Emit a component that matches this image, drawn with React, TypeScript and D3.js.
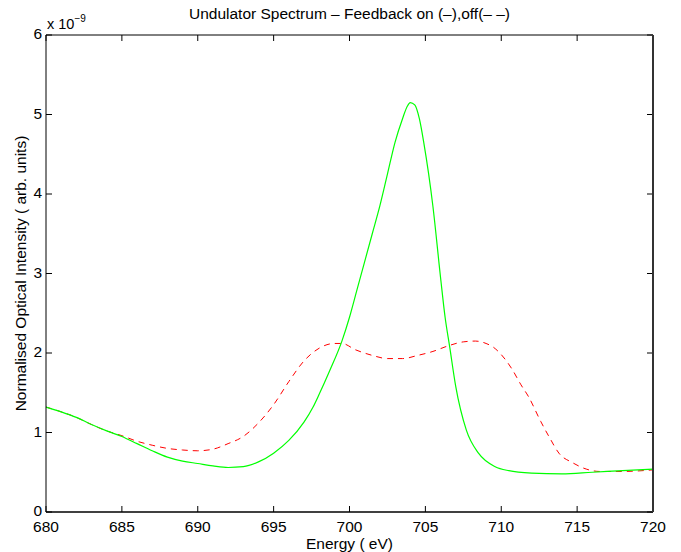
import React, { useRef, useEffect } from "react";
import * as d3 from "d3";

// feedback on (solid green)
const energyOn = [680, 681, 682, 683, 684, 685, 686, 687, 688, 689, 690, 691, 692, 693, 694, 695, 696, 697, 697.6, 698, 698.7, 699.5, 700, 700.5, 701, 701.5, 702, 702.5, 703, 703.5, 703.8, 704, 704.3, 704.6, 704.9, 705.5, 706, 706.3, 706.6, 707, 707.7, 708.5, 709.6, 710.5, 712, 714, 716, 718, 720];
const intensityOn = [1.32, 1.26, 1.19, 1.1, 1.02, 0.95, 0.86, 0.77, 0.69, 0.64, 0.61, 0.58, 0.56, 0.57, 0.63, 0.74, 0.9, 1.13, 1.32, 1.48, 1.78, 2.15, 2.45, 2.8, 3.15, 3.5, 3.85, 4.25, 4.65, 4.95, 5.1, 5.15, 5.12, 4.95, 4.64, 3.84, 2.95, 2.45, 2.08, 1.58, 1.03, 0.74, 0.57, 0.52, 0.49, 0.48, 0.5, 0.52, 0.54];

// feedback off (dashed red)
const energyOff = [680, 681, 682, 683, 684, 685, 686, 687, 688, 689, 690, 691, 692, 693, 694, 695, 696, 697, 698, 699, 699.5, 700.4, 701.5, 702.5, 703.5, 704.5, 705.5, 706.5, 707.5, 708.3, 709, 709.5, 710, 710.7, 711.3, 711.8, 712.6, 713.2, 713.8, 714.7, 715.6, 716.5, 718, 720];
const intensityOff = [1.32, 1.26, 1.19, 1.1, 1.02, 0.96, 0.89, 0.84, 0.8, 0.78, 0.77, 0.79, 0.86, 0.95, 1.12, 1.35, 1.64, 1.9, 2.06, 2.12, 2.12, 2.04, 1.97, 1.93, 1.93, 1.97, 2.02, 2.09, 2.14, 2.15, 2.12, 2.07, 1.98, 1.8, 1.6, 1.45, 1.14, 0.93, 0.74, 0.62, 0.54, 0.51, 0.51, 0.53];

const xTicks = [680, 685, 690, 695, 700, 705, 710, 715, 720];
const yTicks = [0, 1, 2, 3, 4, 5, 6];

const title = "Undulator Spectrum \u2013 Feedback on (\u2013),off(\u2013 \u2013)";
const xLabel = "Energy ( eV)";
const yLabel = "Normalised Optical Intensity ( arb. units)";

const App = () => {
  const ref = useRef<SVGSVGElement>(null);
  const W = 681, H = 552;
  const margin = { top: 35, right: 28, bottom: 40, left: 46 };
  const font = "'Liberation Sans', Arial, sans-serif";
  const fs = 15.5;

  useEffect(() => {
    const svg = d3.select(ref.current);
    svg.selectAll("*").remove();
    const w = W - margin.left - margin.right;
    const h = H - margin.top - margin.bottom;

    const x = d3.scaleLinear().domain([680, 720]).range([0, w]);
    const y = d3.scaleLinear().domain([0, 6]).range([h, 0]);

    const g = svg.append("g").attr("transform", `translate(${margin.left},${margin.top})`);

    const line = d3.line<number>()
      .x(d => x(d[0]))
      .y(d => y(d[1]))
      .curve(d3.curveMonotoneX);

    const offPts: any = energyOff.map((e, i) => [e, intensityOff[i]]);
    const onPts: any = energyOn.map((e, i) => [e, intensityOn[i]]);

    g.append("path").datum(offPts).attr("d", line as any)
      .attr("fill", "none").attr("stroke", "#ff0000").attr("stroke-width", 1)
      .attr("stroke-dasharray", "6,5");
    g.append("path").datum(onPts).attr("d", line as any)
      .attr("fill", "none").attr("stroke", "#00ff00").attr("stroke-width", 1.2);

    // ticks inside, on all four sides
    const tl = 6;
    xTicks.forEach(t => {
      g.append("line").attr("x1", x(t)).attr("x2", x(t)).attr("y1", h).attr("y2", h - tl).attr("stroke", "#000");
      g.append("line").attr("x1", x(t)).attr("x2", x(t)).attr("y1", 0).attr("y2", tl).attr("stroke", "#000");
      g.append("text").attr("x", x(t)).attr("y", h + 20).attr("text-anchor", "middle")
        .attr("font-family", font).attr("font-size", fs).text(t);
    });
    yTicks.forEach(t => {
      g.append("line").attr("x1", 0).attr("x2", tl).attr("y1", y(t)).attr("y2", y(t)).attr("stroke", "#000");
      g.append("line").attr("x1", w).attr("x2", w - tl).attr("y1", y(t)).attr("y2", y(t)).attr("stroke", "#000");
      g.append("text").attr("x", -4).attr("y", y(t) + 4).attr("text-anchor", "end")
        .attr("font-family", font).attr("font-size", fs).text(t);
    });

    // box
    g.append("line").attr("x1", 0).attr("x2", w).attr("y1", 0).attr("y2", 0).attr("stroke", "#000");
    g.append("line").attr("x1", 0).attr("x2", 0).attr("y1", 0).attr("y2", h).attr("stroke", "#000");
    g.append("line").attr("x1", 0).attr("x2", w).attr("y1", h).attr("y2", h).attr("stroke", "#000").attr("stroke-width", 1.5);
    g.append("line").attr("x1", w).attr("x2", w).attr("y1", 0).attr("y2", h).attr("stroke", "#333").attr("stroke-width", 2);

    // exponent
    const ex = g.append("text").attr("x", 1).attr("y", -6).attr("font-family", font).attr("font-size", fs - 1);
    ex.append("tspan").text("x 10");
    ex.append("tspan").attr("dy", -7).attr("font-size", 10).text("\u22129");

    svg.append("text").attr("x", margin.left + w / 2).attr("y", 19).attr("text-anchor", "middle")
      .attr("font-family", font).attr("font-size", fs).text(title);
    svg.append("text").attr("x", margin.left + w / 2).attr("y", H - 3).attr("text-anchor", "middle")
      .attr("font-family", font).attr("font-size", fs).text(xLabel);
    svg.append("text").attr("transform", `translate(26,${margin.top + h / 2}) rotate(-90)`)
      .attr("text-anchor", "middle").attr("font-family", font).attr("font-size", fs).text(yLabel);
  });

  return (
    <svg ref={ref} width={W} height={H}
      style={{ position: "absolute", left: 0, top: 0, background: "#fff" }} />
  );
};

export default App;
